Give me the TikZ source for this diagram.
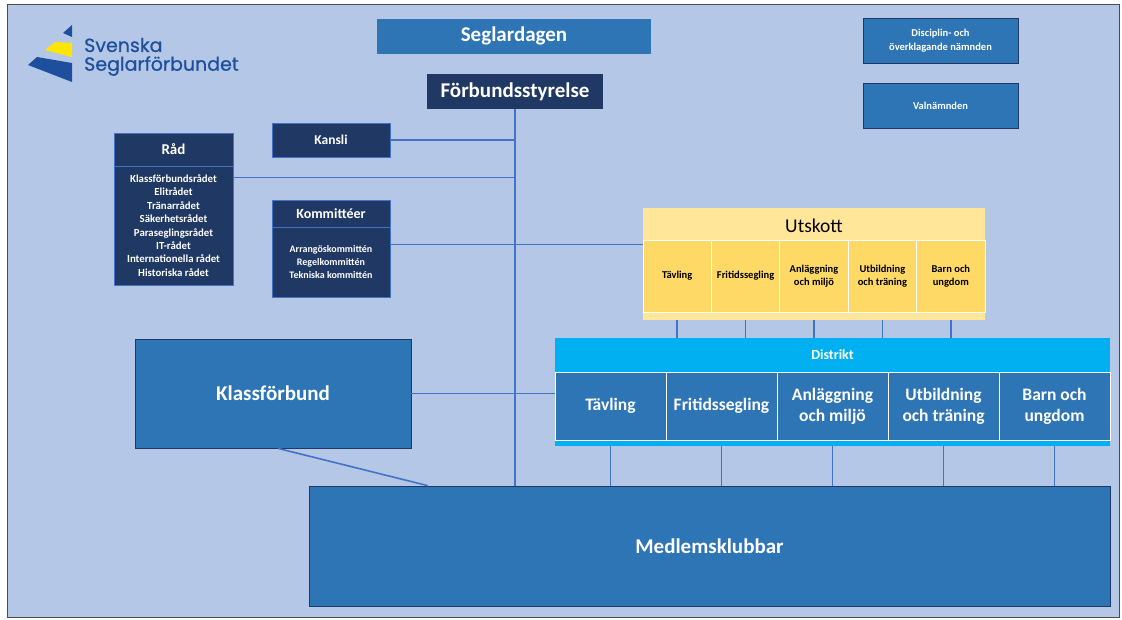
\documentclass[tikz,border=0pt]{standalone}
\usepackage{fontspec}
\setmainfont{Carlito}
\newfontfamily\logofont{Poppins}[FakeBold=0.6]
\usetikzlibrary{calc}
\definecolor{bgblue}{HTML}{B4C7E7}
\definecolor{midblue}{HTML}{2E75B6}
\definecolor{navy}{HTML}{203864}
\definecolor{lineblue}{HTML}{4472C4}
\definecolor{boxline}{HTML}{1F3864}
\definecolor{utskottlight}{HTML}{FFE699}
\definecolor{utskottcell}{HTML}{FFD966}
\definecolor{distriktcyan}{HTML}{00B0F0}
\definecolor{logoblue}{HTML}{1D4F9C}
\definecolor{logoyellow}{HTML}{FFE500}

\begin{document}
\begin{tikzpicture}[x=1pt,y=-1pt,
  box/.style={draw=boxline, line width=0.8pt, fill=midblue, text=white, inner sep=0pt, align=center},
  navybox/.style={draw=lineblue, line width=0.8pt, fill=navy, text=white, inner sep=0pt, align=center},
  ucell/.style={draw=white, line width=1pt, fill=utskottcell, inner sep=0pt, align=center,
    minimum width=68.4, minimum height=72, font=\bfseries\fontsize{10.5}{12.5}\selectfont},
  dcell/.style={draw=white, line width=1pt, fill=midblue, text=white, inner sep=0pt, align=center,
    minimum width=111, minimum height=68, font=\bfseries\fontsize{17.5}{21}\selectfont},
  link/.style={draw=lineblue, line width=1.6pt}]
\useasboundingbox (0,0) rectangle (1122,619);
\fill [white] (0,0) rectangle (1122,619);
\filldraw [fill=bgblue, draw=gray!60!black, line width=1pt] (7,4) rectangle (1119,617);

\fill [logoblue] (72,25) -- (63,33) -- (72,37) -- cycle;
\fill [logoyellow] (55,42) -- (72,43) -- (72,57) -- (45,50) -- cycle;
\fill [logoblue] (37,57) -- (72,63) -- (72,82) -- (28,65) -- cycle;
\node [anchor=west, inner sep=0pt, text=logoblue, font=\logofont\fontsize{19}{22}\selectfont] (svenska) at (84,45) {Svenska};
\node [anchor=west, inner sep=0pt, text=logoblue, font=\logofont\fontsize{19}{22}\selectfont] (seglar) at (84,66) {Seglarförbundet};

\node [box, draw=none, minimum width=274, minimum height=35, font=\bfseries\fontsize{21}{24}\selectfont] (seglardagen) at (514,36) {Seglardagen};
\node [navybox, draw=none, minimum width=176, minimum height=35, font=\bfseries\fontsize{21}{24}\selectfont] (styrelse) at (515,91.5) {Förbundsstyrelse};

\node [box, minimum width=155, minimum height=45, font=\bfseries\fontsize{10.5}{14}\selectfont] (disciplin) at (940.5,40.5) {Disciplin- och\\överklagande nämnden};
\node [box, minimum width=155, minimum height=45, font=\bfseries\fontsize{10.5}{14}\selectfont] (valnamnden) at (940.5,105.5) {Valnämnden};

\node [navybox, minimum width=118, minimum height=34, font=\bfseries\fontsize{13.5}{16}\selectfont] (kansli) at (331,140) {Kansli};

\node [navybox, minimum width=119, minimum height=33, font=\bfseries\fontsize{15}{18}\selectfont] (rad) at (173.5,149.5) {Råd};
\node [navybox, minimum width=119, minimum height=119, font=\bfseries\fontsize{10.8}{13.4}\selectfont] (radlista) at (173.5,225.5)
  {Klassförbundsrådet\\Elitrådet\\Tränarrådet\\Säkerhetsrådet\\Paraseglingsrådet\\IT-rådet\\Internationella rådet\\Historiska rådet};

\node [navybox, minimum width=118, minimum height=27, font=\bfseries\fontsize{14}{17}\selectfont] (kommitteer) at (331,213.5) {Kommittéer};
\node [navybox, minimum width=118, minimum height=70, font=\bfseries\fontsize{10}{13.4}\selectfont] (kommlista) at (331,262)
  {Arrangöskommittén\\Regelkommittén\\Tekniska kommittén};

\node [fill=utskottlight, inner sep=0pt, minimum width=342, minimum height=112] (utskott) at (814,264) {};
\node [inner sep=0pt, font=\fontsize{19.5}{22}\selectfont] (utskottnamn) at (814,226) {Utskott};
\foreach \t [count=\i] in {Tävling,Fritidssegling,{Anläggning\\och miljö},{Utbildning\\och träning},{Barn och\\ungdom}}
  \node [ucell] (u\i) at ({677.2+68.4*(\i-1)},276) {\t};

\node [fill=distriktcyan, inner sep=0pt, minimum width=555, minimum height=108] (distrikt) at (832.5,392) {};
\node [inner sep=0pt, text=white, font=\bfseries\fontsize{14}{16}\selectfont] (distriktnamn) at (832.5,355) {Distrikt};
\foreach \t [count=\i] in {Tävling,Fritidssegling,{Anläggning\\och miljö},{Utbildning\\och träning},{Barn och\\ungdom}}
  \node [dcell] (d\i) at ({610.5+111*(\i-1)},406) {\t};

\node [box, minimum width=276, minimum height=109, font=\bfseries\fontsize{21}{24}\selectfont] (klass) at (273,393.5) {Klassförbund};
\node [box, minimum width=801, minimum height=120, font=\bfseries\fontsize{21}{24}\selectfont] (medlem) at (709.5,546) {Medlemsklubbar};

\draw [link] (styrelse.south) -- (styrelse.south |- medlem.north);
\draw [link] (kansli.east) -- (kansli.east -| styrelse.south);
\draw [link] ([yshift=-12pt]radlista.north east) -- ([yshift=-12pt]radlista.north east -| styrelse.south);
\draw [link] ([yshift=-18pt]kommlista.north east) -- ([yshift=-18pt]kommlista.north east -| utskott.west);
\draw [link] (klass.east) -- (klass.east -| distrikt.west);
\draw [link] ([xshift=5pt]klass.south) -- ([xshift=119pt]medlem.north west);
\foreach \i in {1,...,5} {
  \draw [link] (u\i.south |- utskott.south) -- (u\i.south |- distrikt.north);
  \draw [link] (d\i.south |- distrikt.south) -- (d\i.south |- medlem.north);
}
\end{tikzpicture}
\end{document}
